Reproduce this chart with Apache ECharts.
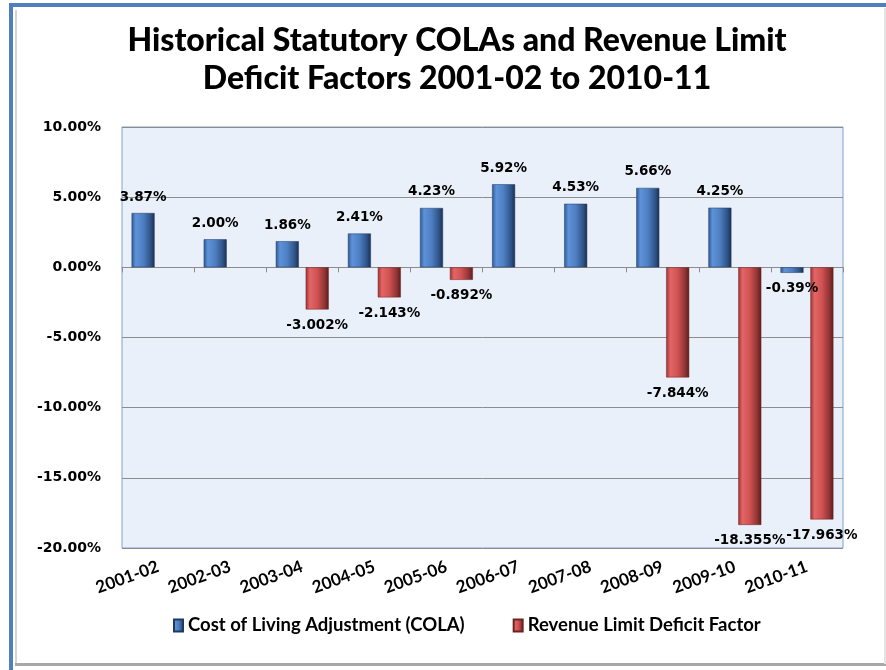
<!DOCTYPE html>
<html lang="en">
<head>
    <meta charset="UTF-8">
    <title>Historical Statutory COLAs</title>
    <style>
        html, body { margin: 0; padding: 0; background: #fff; }
        #main { width: 886px; height: 670px; }
    </style>
</head>
<body>
    <div id="main"></div>
    <script src="https://cdn.jsdelivr.net/npm/echarts@6/dist/echarts.min.js"></script>
    <script>
        var years = ['2001-02', '2002-03', '2003-04', '2004-05', '2005-06',
                     '2006-07', '2007-08', '2008-09', '2009-10', '2010-11'];
        // COLA, percent
        var colaValues = [3.87, 2.00, 1.86, 2.41, 4.23, 5.92, 4.53, 5.66, 4.25, -0.39];
        var colaLabels = ['3.87%', '2.00%', '1.86%', '2.41%', '4.23%', '5.92%', '4.53%', '5.66%', '4.25%', '-0.39%'];
        // deficit factor, percent (null = no bar)
        var deficitValues = [null, null, -3.002, -2.143, -0.892, null, null, -7.844, -18.355, -17.963];
        var deficitLabels = ['', '', '-3.002%', '-2.143%', '-0.892%', '', '', '-7.844%', '-18.355%', '-17.963%'];
        var yTicks = [-20, -15, -10, -5, 0, 5, 10];

        var blueFill = new echarts.graphic.LinearGradient(0, 0, 1, 0, [
            { offset: 0, color: '#2d5895' },
            { offset: 0.18, color: '#5e92d8' },
            { offset: 0.5, color: '#4e7fc3' },
            { offset: 0.82, color: '#2f5488' },
            { offset: 1, color: '#1b2f50' }
        ]);
        var redFill = new echarts.graphic.LinearGradient(0, 0, 1, 0, [
            { offset: 0, color: '#9c3333' },
            { offset: 0.18, color: '#e36565' },
            { offset: 0.5, color: '#d05252' },
            { offset: 0.82, color: '#923434' },
            { offset: 1, color: '#5a1d1d' }
        ]);

        var myChart = echarts.init(document.getElementById('main'));

        var colaData = colaValues.map(function (v, i) {
            return {
                value: v,
                label: { position: v < 0 ? 'bottom' : 'top' }
            };
        });

        option = {
            backgroundColor: '#ffffff',
            animation: false,
            title: {
                text: 'Historical Statutory COLAs and Revenue Limit\nDeficit Factors 2001-02 to 2010-11',
                left: 452,
                textAlign: 'center',
                top: 17,
                textStyle: {
                    fontFamily: 'Lato',
                    fontWeight: 900,
                    fontSize: 32,
                    lineHeight: 38,
                    color: '#000'
                }
            },
            graphic: [
                { type: 'rect', shape: { x: 9, y: 3, width: 877, height: 4 }, style: { fill: '#4f7fbf' }, silent: true },
                { type: 'rect', shape: { x: 9, y: 3, width: 4, height: 667 }, style: { fill: '#4f7fbf' }, silent: true },
                { type: 'rect', shape: { x: 15, y: 10, width: 2, height: 655 }, style: { fill: '#d4d4d4' }, silent: true },
                { type: 'rect', shape: { x: 15, y: 663, width: 871, height: 3 }, style: { fill: '#a8a8a8' }, silent: true },
                { type: 'rect', shape: { x: 884, y: 8, width: 2, height: 656 }, style: { fill: '#e4e4e4' }, silent: true }
            ],
            legend: {
                bottom: 30,
                left: 168,
                itemGap: 48,
                itemWidth: 9,
                itemHeight: 12,
                icon: 'rect',
                textStyle: {
                    fontFamily: 'Lato',
                    fontWeight: 'bold',
                    fontSize: 18.5,
                    color: '#000'
                },
                data: ['Cost of Living Adjustment (COLA)', 'Revenue Limit Deficit Factor']
            },
            grid: {
                left: 122,
                right: 43,
                top: 127,
                bottom: 122,
                show: true,
                backgroundColor: '#eaf0fa',
                borderColor: '#7ea1cf',
                borderWidth: 1
            },
            xAxis: [{
                type: 'category',
                data: years,
                axisLine: { onZero: true, lineStyle: { color: '#8c8c8c', width: 1 } },
                axisTick: { show: true, length: 5, lineStyle: { color: '#8c8c8c' } },
                axisLabel: { show: false },
                splitLine: { show: false }
            }, {
                type: 'category',
                data: years,
                position: 'bottom',
                axisLine: { show: false, onZero: false },
                axisTick: { show: false },
                axisLabel: {
                    rotate: 20,
                    margin: 18,
                    fontFamily: 'Lato',
                    fontWeight: 'bold',
                    fontSize: 17,
                    color: '#000'
                }
            }],
            yAxis: {
                type: 'value',
                min: yTicks[0],
                max: yTicks[yTicks.length - 1],
                interval: 5,
                axisLine: { show: false },
                axisTick: { show: false },
                axisLabel: {
                    margin: 21,
                    fontFamily: 'DejaVu Sans',
                    fontWeight: 'bold',
                    fontSize: 14,
                    color: '#000',
                    formatter: function (v) { return v.toFixed(2) + '%'; }
                },
                splitLine: {
                    show: true,
                    lineStyle: { color: '#8c8c8c', width: 1 }
                }
            },
            series: [{
                name: 'Cost of Living Adjustment (COLA)',
                type: 'bar',
                xAxisIndex: 0,
                data: colaData,
                barWidth: 23,
                barGap: '30%',
                itemStyle: { color: blueFill, borderColor: '#1f3a62', borderWidth: 0.5 },
                label: {
                    show: true,
                    distance: 9,
                    fontFamily: 'DejaVu Sans',
                    fontWeight: 'bold',
                    fontSize: 13.5,
                    color: '#000',
                    formatter: function (p) { return colaLabels[p.dataIndex]; }
                }
            }, {
                name: 'Revenue Limit Deficit Factor',
                type: 'bar',
                xAxisIndex: 0,
                data: deficitValues,
                barWidth: 23,
                barGap: '30%',
                itemStyle: { color: redFill, borderColor: '#6b2424', borderWidth: 0.5 },
                label: {
                    show: true,
                    position: 'bottom',
                    distance: 9,
                    fontFamily: 'DejaVu Sans',
                    fontWeight: 'bold',
                    fontSize: 13.5,
                    color: '#000',
                    formatter: function (p) { return deficitLabels[p.dataIndex]; }
                }
            }]
        };
        myChart.setOption(option);
    </script>
</body>
</html>
